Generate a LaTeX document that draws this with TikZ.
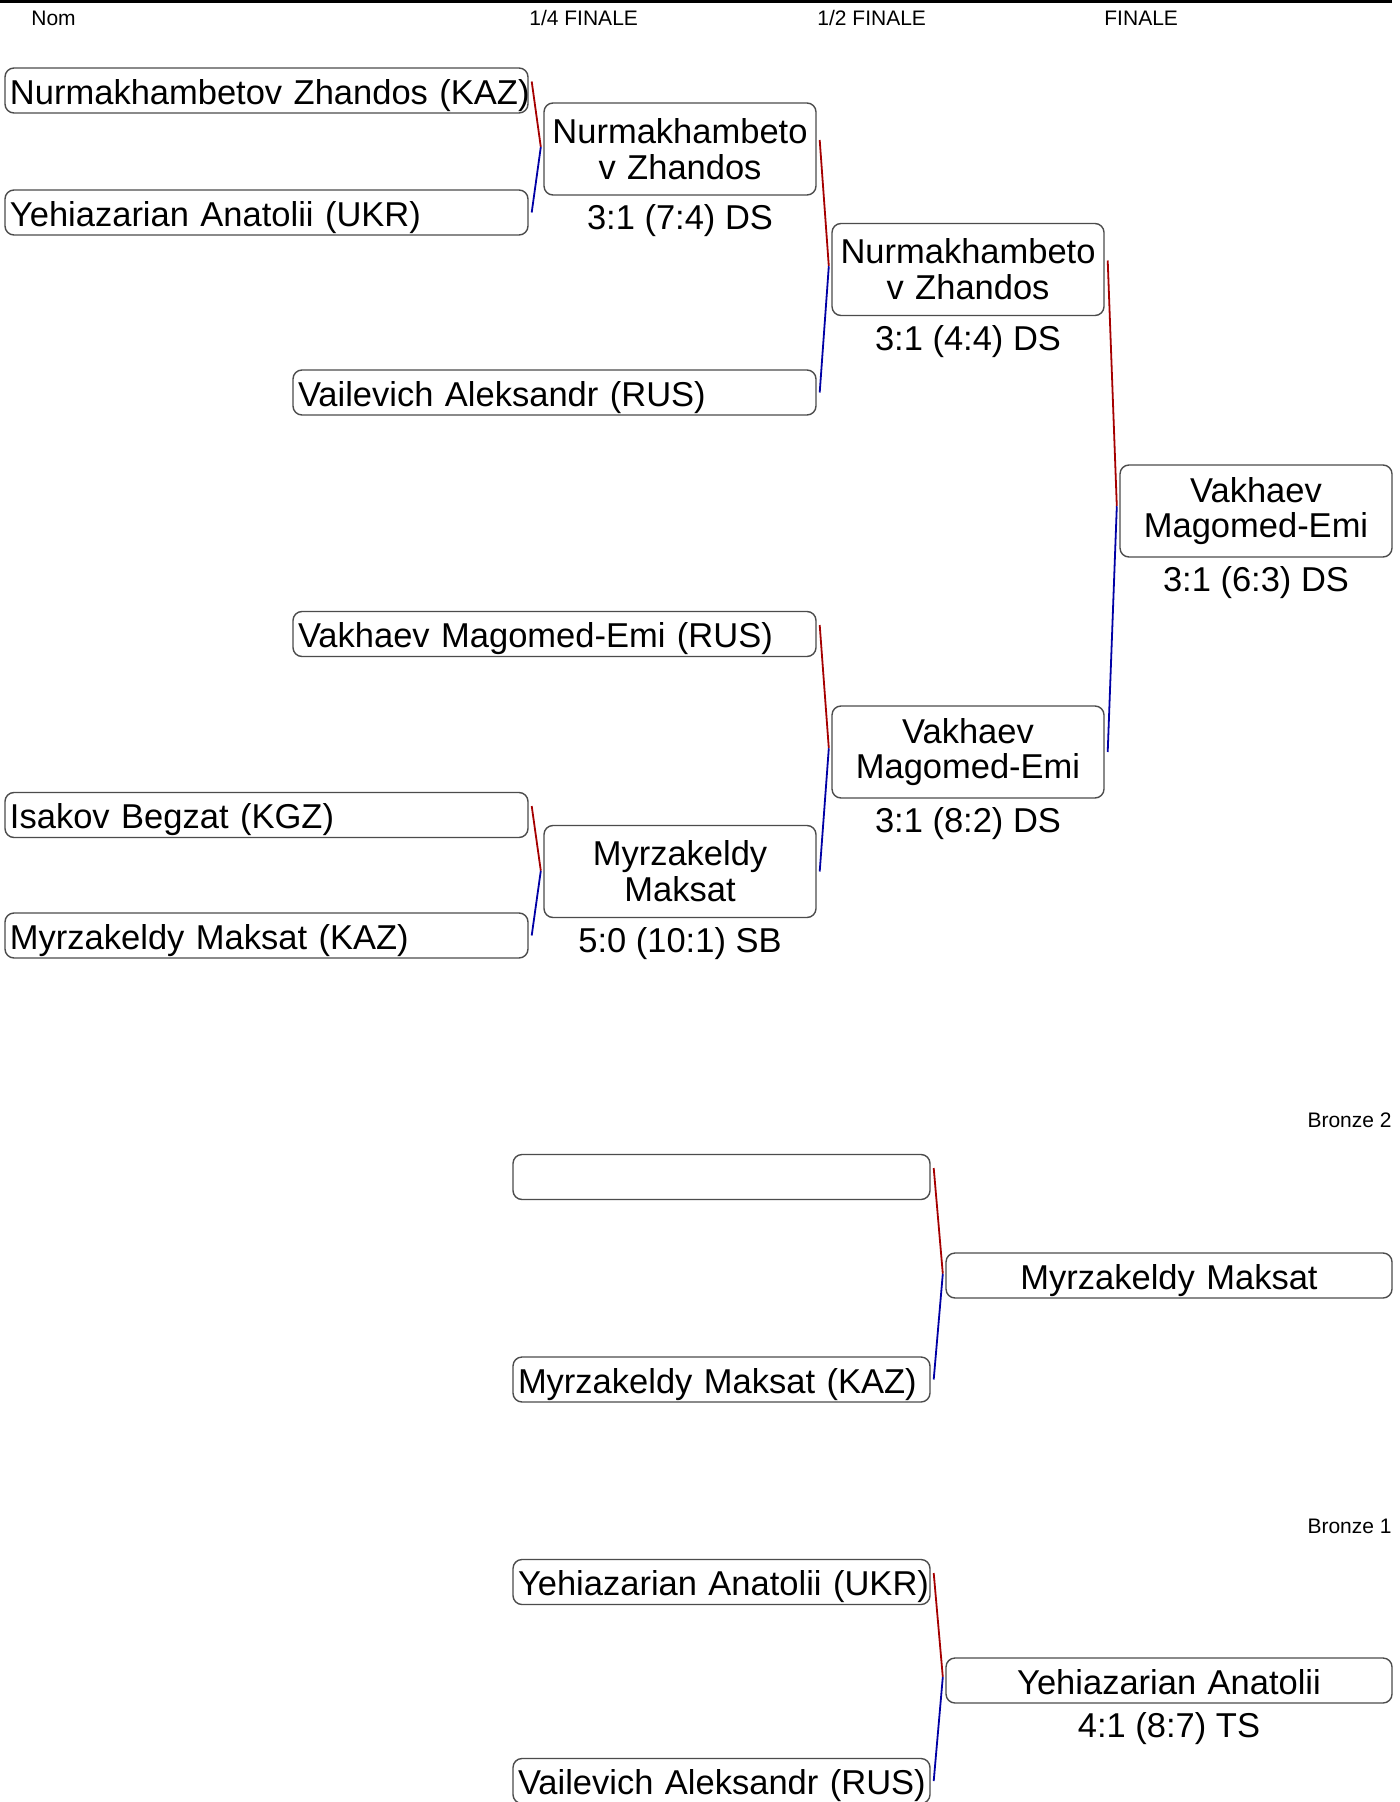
\documentclass[tikz,border=0pt]{standalone}
\usepackage{fontspec}
\setmainfont{Liberation Sans}
\usetikzlibrary{calc}
\definecolor{wred}{RGB}{165,0,0}
\definecolor{wblue}{RGB}{0,0,165}
\newcommand\bigfont{\fontsize{17.25pt}{17.9pt}\selectfont}
\newcommand\hdrfont{\fontsize{10.5pt}{12.5pt}\selectfont}
\tikzset{
 box/.style={draw=black!70, line width=0.7pt, rounded corners=4.5pt, inner ysep=0pt, font=\bigfont},
 entrant/.style={box, align=left, inner xsep=2.5pt, minimum height=22.5pt, text height=15.9pt, text depth=2pt},
 col1/.style={entrant, text width=256.5pt},
 bronzein/.style={entrant, text width=203.5pt},
 result/.style={box, align=center, inner xsep=2pt, text width=132pt, minimum height=46pt},
 bresult/.style={box, align=center, inner xsep=2pt, text width=219pt, minimum height=22.5pt, text height=15.9pt, text depth=2pt},
 score/.style={font=\bigfont, inner sep=0pt, anchor=base},
 hdr/.style={font=\hdrfont, inner sep=0pt},
 redline/.style={draw=wred, line width=0.9pt},
 blueline/.style={draw=wblue, line width=0.9pt},
}
\newcommand\bout[3]{%
  \path ($(#1.east)!0.5!(#2.east)$) coordinate (mid-#3);
  \path (#3.west |- mid-#3) coordinate (join-#3);
  \draw[redline] ([xshift=1.5pt,yshift=4.5pt]#1.east) -- ([xshift=-1.25pt,yshift=2.25pt]join-#3);
  \draw[blueline] ([xshift=-1.25pt,yshift=2.25pt]join-#3) -- ([xshift=1.5pt]#2.east);
}
\begin{document}
\begin{tikzpicture}[x=0.5pt,y=-0.5pt]
\clip (0,0) rectangle (1400,1802);
\fill[white] (0,0) rectangle (1400,1802);
\draw[line width=1.5pt] (0,1.5) -- (1392,1.5);
% headers
\node[hdr, anchor=base west] (hnom) at (31,25.5) {Nom};
\node[hdr, anchor=base west] (hq) at (529,25.5) {1/4 FINALE};
\node[hdr, anchor=base west] (hs) at (817,25.5) {1/2 FINALE};
\node[hdr, anchor=base west] (hf) at (1104,25.5) {FINALE};
% entrants
\node[col1] (a) at (266.5,90.5) {\mbox{Nurmakhambetov Zhandos (KAZ)}};
\node[col1] (b) at (266.5,212.5) {\mbox{Yehiazarian Anatolii (UKR)}};
\node[col1] (e) at (266.5,815) {\mbox{Isakov Begzat (KGZ)}};
\node[col1] (f) at (266.5,935.5) {\mbox{Myrzakeldy Maksat (KAZ)}};
\node[col1] (c) at (554.5,392.5) {\mbox{Vailevich Aleksandr (RUS)}};
\node[col1] (d) at (554.5,634) {\mbox{Vakhaev Magomed-Emi (RUS)}};
% results
\node[result] (q1) at (680,149) {Nurmakhambeto\\v Zhandos};
\node[result] (q2) at (680,871.5) {Myrzakeldy\\Maksat};
\node[result] (s1) at (968,269.5) {Nurmakhambeto\\v Zhandos};
\node[result] (s2) at (968,752) {Vakhaev\\Magomed-Emi};
\node[result] (fi) at (1256,511) {Vakhaev\\Magomed-Emi};
\node[score] (q1s) at ([yshift=-17pt]q1.south) {3:1 (7:4) DS};
\node[score] (q2s) at ([yshift=-17pt]q2.south) {5:0 (10:1) SB};
\node[score] (s1s) at ([yshift=-17pt]s1.south) {3:1 (4:4) DS};
\node[score] (s2s) at ([yshift=-17pt]s2.south) {3:1 (8:2) DS};
\node[score] (fis) at ([yshift=-17pt]fi.south) {3:1 (6:3) DS};
\bout{a}{b}{q1}
\bout{e}{f}{q2}
\bout{q1}{c}{s1}
\bout{d}{q2}{s2}
\bout{s1}{s2}{fi}
% bronze 2
\node[hdr, anchor=base east] (hb2) at (1392,1127.5) {Bronze 2};
\node[bronzein] (be) at (721.5,1177) {};
\node[bronzein] (bm) at (721.5,1379.5) {\mbox{Myrzakeldy Maksat (KAZ)}};
\node[bresult] (b2) at (1169,1275.5) {Myrzakeldy Maksat};
\bout{be}{bm}{b2}
% bronze 1
\node[hdr, anchor=base east] (hb1) at (1392,1533) {Bronze 1};
\node[bronzein] (by) at (721.5,1582) {\mbox{Yehiazarian Anatolii (UKR)}};
\node[bronzein] (bv) at (721.5,1781) {\mbox{Vailevich Aleksandr (RUS)}};
\node[bresult] (b1) at (1169,1680.5) {Yehiazarian Anatolii};
\node[score] (b1s) at ([yshift=-17pt]b1.south) {4:1 (8:7) TS};
\bout{by}{bv}{b1}
\end{tikzpicture}
\end{document}
